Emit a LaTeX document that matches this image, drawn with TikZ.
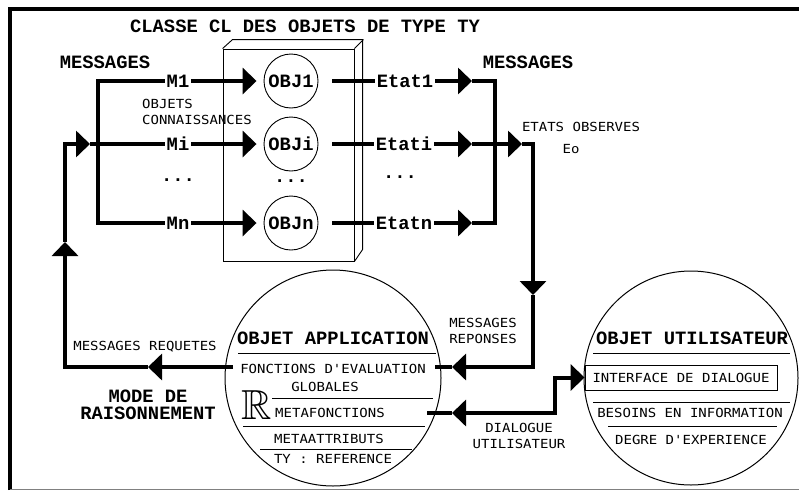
\documentclass[tikz,border=0pt]{standalone}
\usepackage{amssymb}
\usepackage{fontspec}
\usepackage{tikz}
\usetikzlibrary{arrows.meta}

\newfontfamily\grasfam{Liberation Mono}
\newfontfamily\finfam{DejaVu Sans Mono}[FakeStretch=1.12]
\newcommand{\gras}{\grasfam\bfseries\fontsize{18.8}{17}\selectfont}
\newcommand{\fin}{\finfam\fontsize{12.5}{16}\selectfont}

\begin{document}
\begin{tikzpicture}[x=1pt, y=-1pt,
    ligne/.style={line width=4pt},
    fleche/.style={line width=4pt, -{Triangle[length=14pt, width=26pt]}},
    fleches/.style={line width=4pt, {Triangle[length=14pt, width=26pt]}-{Triangle[length=14pt, width=26pt]}},
    mince/.style={line width=0.9pt},
    objet/.style={circle, draw, line width=0.9pt, minimum size=54pt, inner sep=0pt, font=\gras},
    grand/.style={circle, draw, line width=1pt, minimum size=216pt},
    titre/.style={font=\gras, inner sep=2pt, align=center},
    texte/.style={font=\fin, inner sep=2pt, align=center}]

    \useasboundingbox (0,0) rectangle (799,490);
    \draw[line width=3.5pt] (10,490) -- (10,9) -- (799,9);
    \draw[gray, line width=1pt] (10,489) -- (799,489);

    \node[titre] (classe) at (305,26) {CLASSE CL DES OBJETS DE TYPE TY};

    \node[draw, mince, minimum width=131pt, minimum height=212pt] (boite) at (288.5,155) {};
    \draw[mince] (boite.north west) -- ++(10,-9) -- ++(130,0) -- ++(0,210) -- (boite.south east);
    \draw[mince] (boite.north east) -- ++(9,-9);

    \node[objet] (obj1) at (291,81) {OBJ1};
    \node[objet] (obji) at (291,144) {OBJi};
    \node[objet] (objn) at (291,223) {OBJn};
    \node[titre] (pts) at (291,181) {...};

    \node[titre] (msgG) at (105,62) {MESSAGES};
    \node[titre] (m1) at (178,81) {M1};
    \node[titre] (mi) at (178,144) {Mi};
    \node[titre] (mn) at (178,223) {Mn};
    \node[titre] (ptsG) at (178,180) {...};
    \node[texte, align=left, anchor=west] (connaiss) at (140,112) {OBJETS\\CONNAISSANCES};

    \node[titre] (etat1) at (405,81) {Etat1};
    \node[titre] (etati) at (404,144) {Etati};
    \node[titre] (etatn) at (404,223) {Etatn};
    \node[titre] (ptsD) at (400,177) {...};
    \node[titre] (msgD) at (528,62) {MESSAGES};
    \node[texte] (etatsobs) at (581,127) {ETATS OBSERVES};
    \node[texte] (eo) at (571,149) {Eo};

    \coordinate (busG1) at (98,81);
    \coordinate (busGn) at (98,223);
    \coordinate (entree) at (90,144);
    \coordinate (coinG) at (65,144);
    \coordinate (flecheH) at (65,242);
    \coordinate (coinB) at (65,367);
    \coordinate (flecheG) at (148,367);
    \coordinate (sortieG) at (233,367);

    \draw[ligne] (m1.west) -- (busG1) -- (busGn) -- (mn.west);
    \draw[ligne] (entree) -- (mi.west);
    \draw[fleche, shorten >=7pt] (m1) -- (obj1);
    \draw[fleche, shorten >=7pt] (mi) -- (obji);
    \draw[fleche, shorten >=7pt] (mn) -- (objn);

    \coordinate (pointe1) at (472,81);
    \coordinate (busD1) at (495,81);
    \coordinate (busDn) at (495,223);
    \coordinate (pointen) at (472,223);
    \coordinate (pointei) at (472,144);
    \coordinate (pointeEo) at (522,144);
    \coordinate (coinD) at (533,144);
    \coordinate (flecheB) at (533,295);
    \coordinate (coinD2) at (533,367);
    \coordinate (pointeA) at (452,367);
    \coordinate (entreeA) at (435,367);

    \draw[ligne, shorten <=14pt] (obj1) -- (etat1);
    \draw[ligne, shorten <=14pt] (obji) -- (etati);
    \draw[ligne, shorten <=14pt] (objn) -- (etatn);
    \draw[fleche] (etat1) -- (pointe1);
    \draw[fleche] (etati) -- (pointei);
    \draw[fleche] (etatn) -- (pointen);
    \draw[ligne] (pointe1) -- (busD1) -- (busDn) -- (pointen);
    \draw[fleche] (pointei) -- (pointeEo);
    \draw[fleche] (pointeEo) -- (coinD) -- (flecheB);
    \draw[fleche] (flecheB) -- (coinD2) -- (pointeA);
    \draw[ligne] (pointeA) -- (entreeA);

    \node[grand] (appl) at (333,378) {};
    \node[titre] (applT) at (333,338) {OBJET APPLICATION};
    \draw[mince] (238,353) -- (436,353);
    \node[texte] (fonct) at (333,369) {FONCTIONS D'EVALUATION};
    \node[texte] (glob) at (325,387) {GLOBALES};
    \draw[mince] (272,398) -- (433,398);
    \node[inner sep=0pt] (rr) at (257,405) {\fontsize{42}{42}\selectfont$\mathbb{R}$};
    \node[texte] (metaf) at (330,413) {METAFONCTIONS};
    \draw[mince] (243,426) -- (425,426);
    \node[texte] (metaa) at (329,439) {METAATTRIBUTS};
    \draw[mince] (260,449) -- (412,449);
    \node[texte] (ty) at (333,459) {TY : REFERENCE};

    \draw[fleche] (sortieG) -- (flecheG);
    \draw[fleche] (flecheG) -- (coinB) -- (flecheH);
    \draw[fleche] (flecheH) -- (coinG) -- (entree);

    \node[texte] (requetes) at (145,347) {MESSAGES REQUETES};
    \node[titre] (mode) at (148,405) {MODE DE\\RAISONNEMENT};
    \node[texte] (reponses) at (483,331) {MESSAGES\\REPONSES};
    \node[texte] (dialogue) at (519,436) {DIALOGUE\\UTILISATEUR};

    \node[grand, minimum size=214pt] (util) at (691,378) {};
    \node[titre] (utilT) at (692,338) {OBJET UTILISATEUR};
    \draw[mince] (593,353) -- (790,353);
    \node[draw, mince, texte, minimum width=192pt, minimum height=25pt] (interface) at (681,377.5) {INTERFACE DE DIALOGUE};
    \draw[mince] (593,402) -- (790,402);
    \node[texte] (besoins) at (690,413) {BESOINS EN INFORMATION};
    \draw[mince] (608,426) -- (777,426);
    \node[texte] (degre) at (691,440) {DEGRE D'EXPERIENCE};

    \coordinate (entreeM) at (427,413);
    \coordinate (pointeM) at (452,413);
    \coordinate (coudeB) at (555,413);
    \coordinate (coudeH) at (555,377.5);
    \draw[ligne] (entreeM) -- (pointeM);
    \draw[fleches] (pointeM) -- (coudeB) -- (coudeH) -- (interface.west);
\end{tikzpicture}
\end{document}
